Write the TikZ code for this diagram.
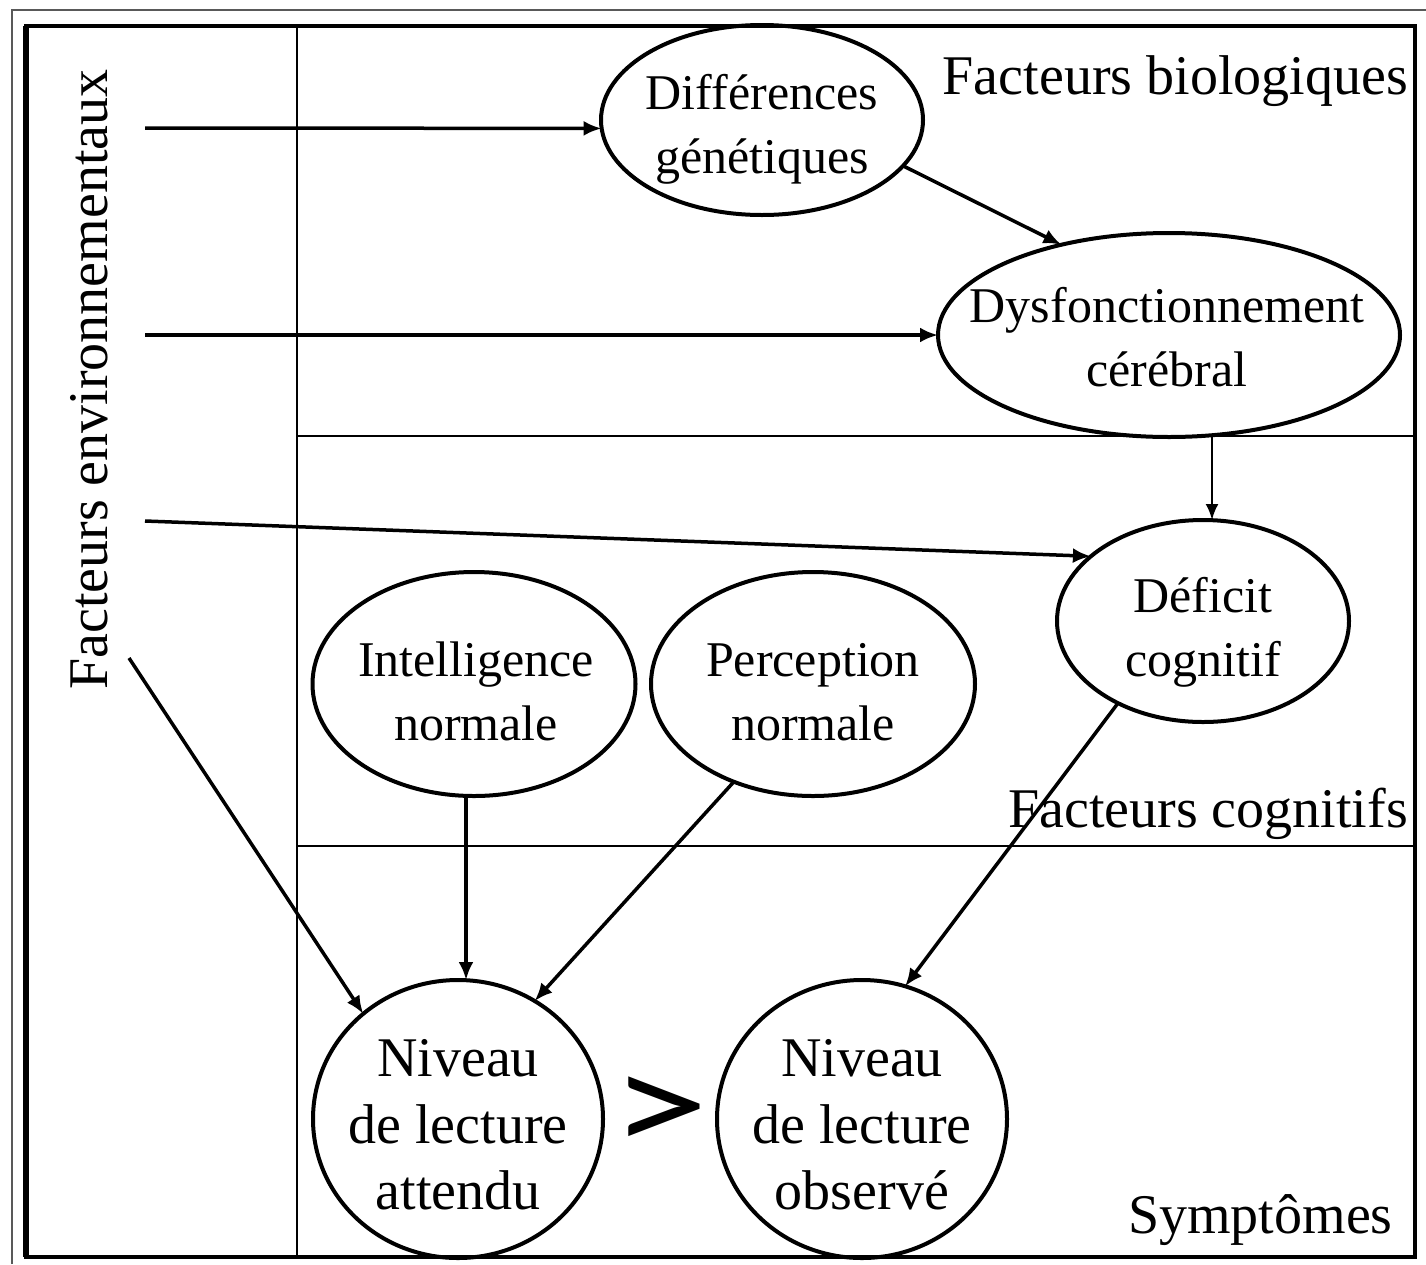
\documentclass[tikz,border=0pt]{standalone}
\usepackage{fontspec}
\setmainfont{Liberation Serif}
\newfontfamily\gtfont{Carlito}
\usetikzlibrary{arrows.meta,shapes.geometric,calc}
\begin{document}
\begin{tikzpicture}[x=1pt,y=-1pt,
  ell/.style={draw, ellipse, line width=4pt, inner sep=0pt, outer sep=0pt},
  etxt/.style={align=center, inner sep=0pt, font=\fontsize{50}{64}\selectfont},
  ctxt/.style={align=center, inner sep=0pt, font=\fontsize{56}{66.5}\selectfont},
  lab/.style={inner sep=0pt, font=\fontsize{56}{67}\selectfont},
  arr/.style={line width=3.5pt, -{Latex[length=18pt,width=15pt]}},
  tarr/.style={line width=2.5pt, -{Latex[length=16pt,width=13pt]}},
  frame/.style={line width=4pt},
  divider/.style={line width=2.5pt}]
\useasboundingbox (0,0) rectangle (1426,1264);
% frames
\draw[black!65, line width=2.5pt] (12,1264) -- (12,10) -- (1426,10);
\draw[frame] (26,26) rectangle (1415,1257);
\draw[line width=6pt] (26,26) -- (26,1257);
\draw[divider] (297,26) -- (297,1257);
\draw[divider] (297,436) -- (1415,436);
\draw[divider] (297,846) -- (1415,846);
% labels
\node[lab, anchor=base east] (lbio) at (1408,94) {Facteurs biologiques};
\node[lab, anchor=base west] (lcog) at (1008,827) {Facteurs cognitifs};
\node[lab, anchor=base west] (lsym) at (1128,1233) {Symptômes};
\node[lab, rotate=90, anchor=base west] (lenv) at (107,690) {Facteurs environnementaux};
% ellipses
\node[ell, minimum width=322pt, minimum height=190pt] (dg) at (762,120) {};
\node[etxt] (dgt) at (762,129) {\strut Différences\\\strut génétiques};
\node[ell, minimum width=462pt, minimum height=204pt] (dysf) at (1169,335) {};
\node[etxt] (dysft) at (1167,342) {\strut Dysfonctionnement\\\strut cérébral};
\node[ell, minimum width=292pt, minimum height=202pt] (dc) at (1203,621) {};
\node[etxt] (dct) at (1203,632) {\strut Déficit\\\strut cognitif};
\node[ell, minimum width=323pt, minimum height=224pt] (int) at (474,684) {};
\node[etxt] (intt) at (476,696) {\strut Intelligence\\\strut normale};
\node[ell, minimum width=324pt, minimum height=224pt] (per) at (813,684) {};
\node[etxt] (pert) at (813,696) {\strut Perception\\\strut normale};
\node[ell, minimum width=290pt, minimum height=278pt] (att) at (458,1119) {};
\node[ctxt] (attt) at (458,1130) {\strut Niveau\\\strut de lecture\\\strut attendu};
\node[ell, minimum width=290pt, minimum height=278pt] (obs) at (862,1119) {};
\node[ctxt] (obst) at (862,1130) {\strut Niveau\\\strut de lecture\\\strut observé};
\node[inner sep=0pt, xscale=1.15, yscale=0.85, font=\gtfont\fontsize{170}{170}\selectfont] (gt) at (660,1115) {>};
% environment arrow origins
\coordinate (e1) at (145,128);
\coordinate (e2) at (145,335);
\coordinate (e3) at (145,521);
\coordinate (e4) at (129,658);
% connectors
\draw[arr] (e1) -- (dg.183);
\draw[arr] (dg.-18) -- (dysf.140);
\draw[arr] (e2) -- (dysf.west);
\coordinate (t4) at ($(dc.north)+(9,0)$);
\draw[tarr] (dysf.south -| t4) -- (t4);
\draw[arr] (e3) -- (dc.150.5);
\draw[arr] (e4) -- (att.132);
\coordinate (t7) at ($(att.north)+(8,0)$);
\draw[arr] (t7 |- int.south) -- (t7);
\draw[arr] (per.231) -- (att.57);
\draw[arr] (dc.224) -- (obs.72);
\end{tikzpicture}
\end{document}
